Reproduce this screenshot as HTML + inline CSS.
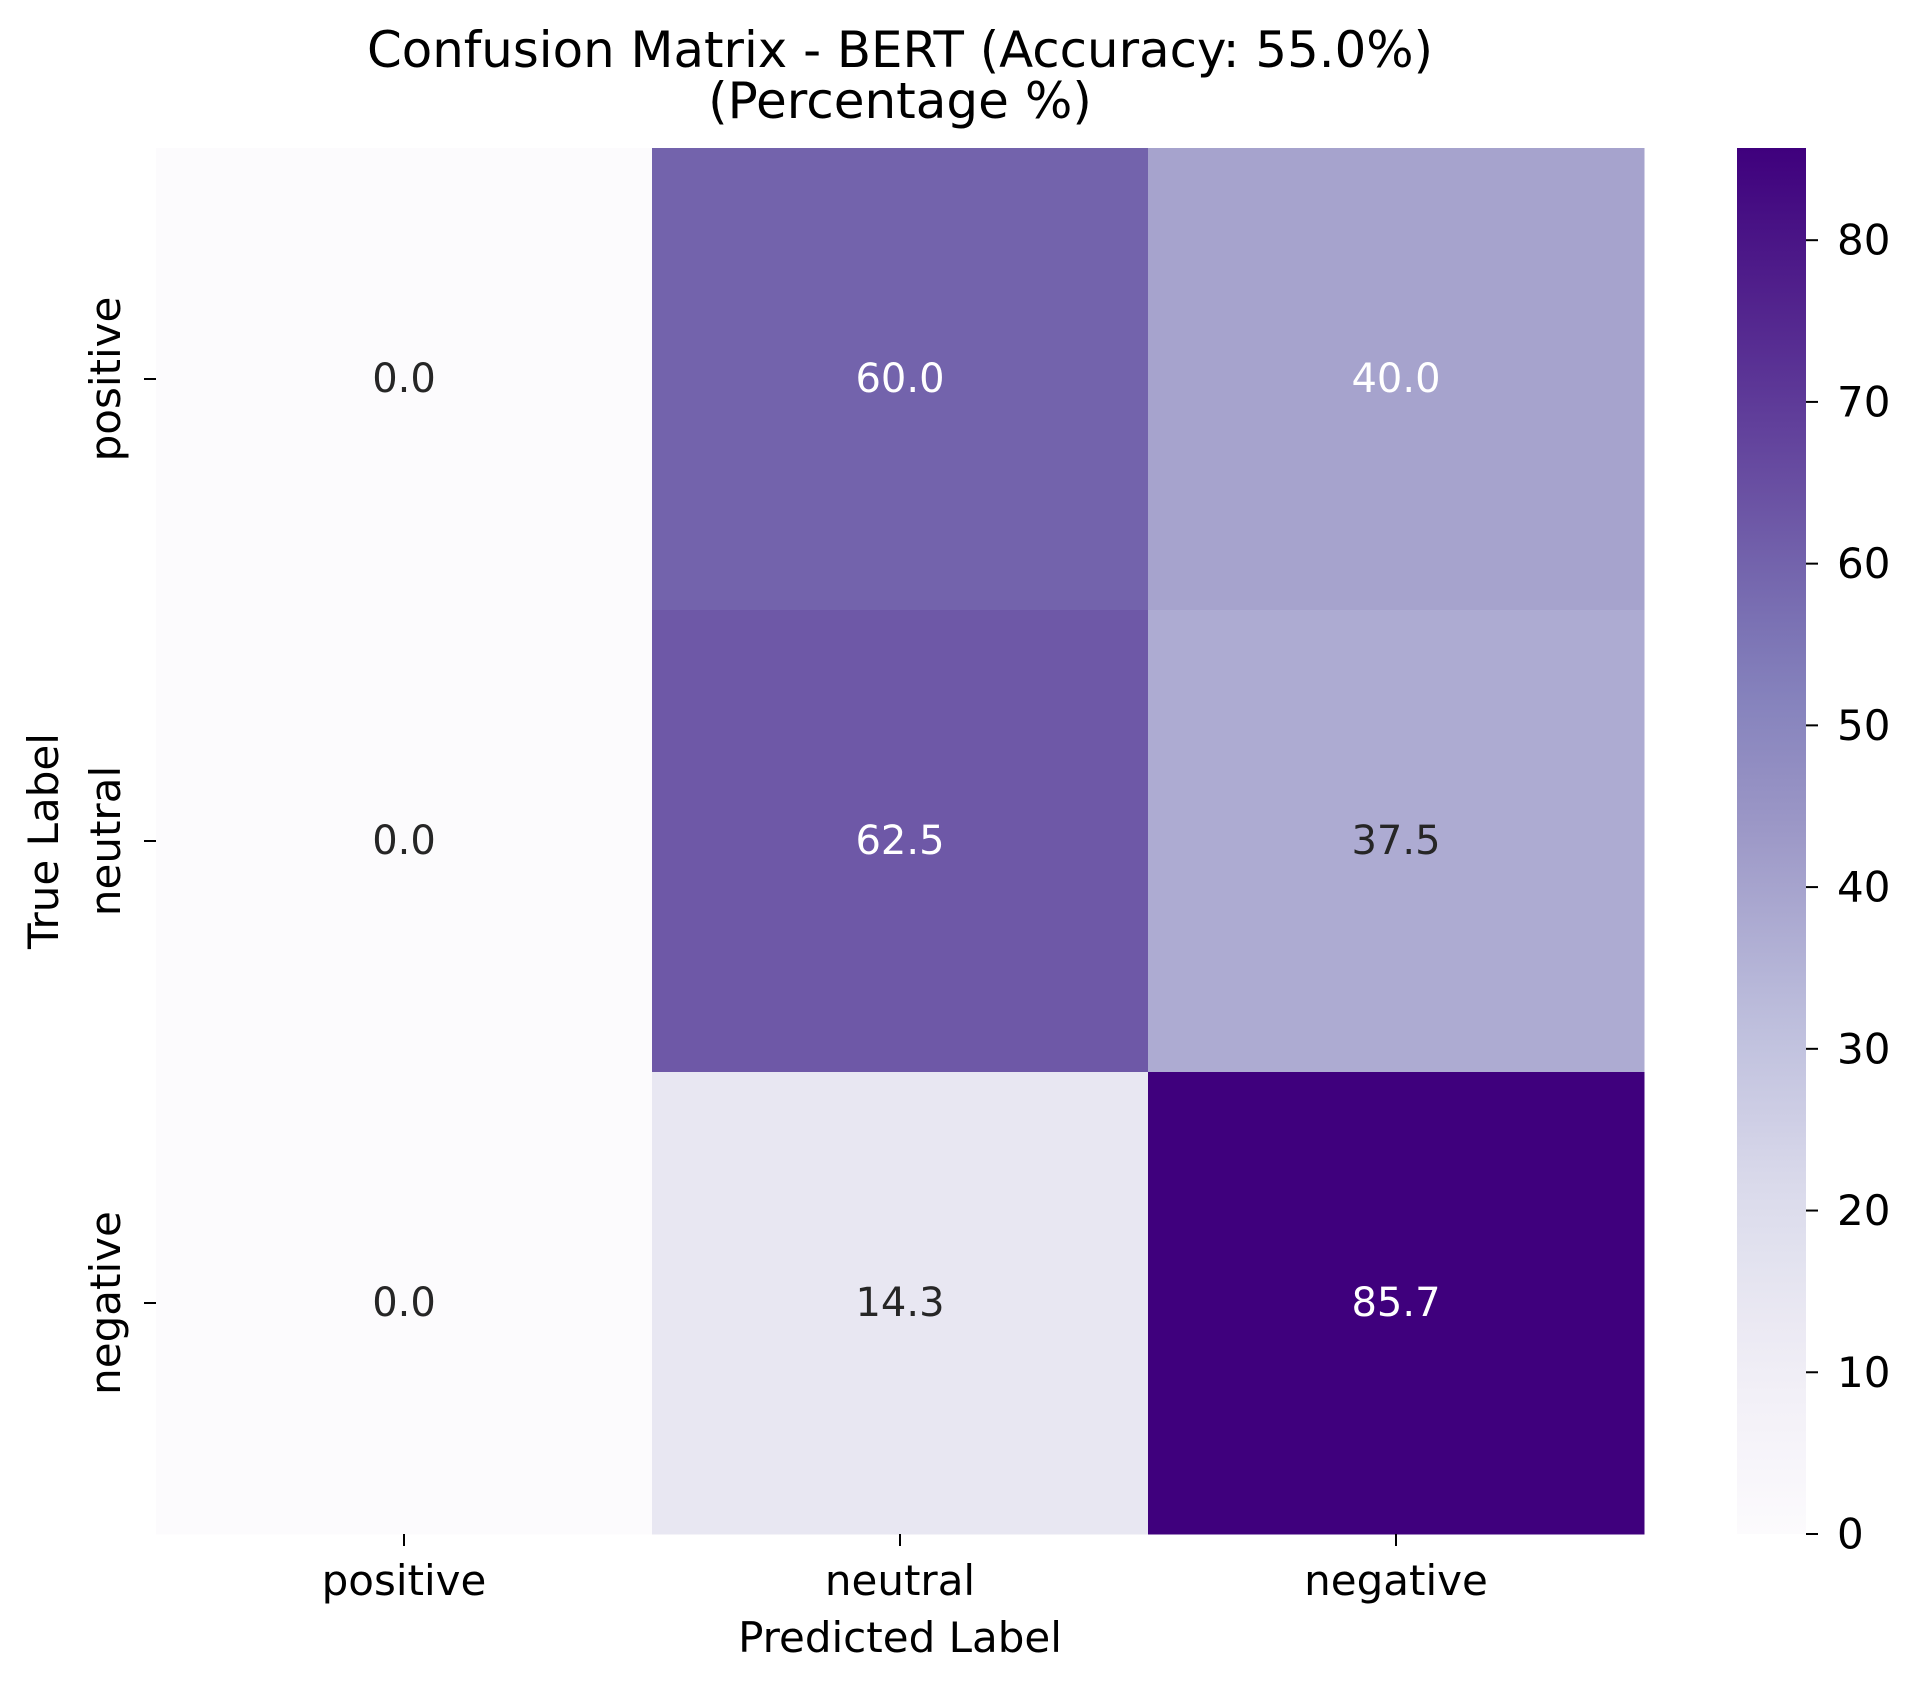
<!DOCTYPE html>
<html><head><meta charset="utf-8"><style>
html,body{margin:0;padding:0;background:#fff}
svg{display:block;font-family:"DejaVu Sans","Liberation Sans",sans-serif}
</style></head><body>
<svg id="chart" width="1918" height="1690" viewBox="0 0 1918 1690" xmlns="http://www.w3.org/2000/svg">
<defs><linearGradient id="cbgrad" x1="0" y1="1" x2="0" y2="0"></linearGradient></defs>
<text x="900" y="67" font-size="50" text-anchor="middle" fill="#000" textLength="1066" lengthAdjust="spacingAndGlyphs">Confusion Matrix - BERT (Accuracy: 55.0%)</text>
<text x="900" y="118" font-size="50" text-anchor="middle" fill="#000">(Percentage %)</text>
<g id="cells"></g>
<g id="xaxis"></g>
<g id="yaxis"></g>
<text x="900" y="1652" font-size="42" text-anchor="middle" fill="#000">Predicted Label</text>
<text x="0" y="0" font-size="42" text-anchor="middle" fill="#000" transform="translate(58,841) rotate(-90)">True Label</text>
<g id="colorbar"></g>
</svg>
<script>
const categories = ["positive", "neutral", "negative"];
const row0 = [0.0, 60.0, 40.0];
const row1 = [0.0, 62.5, 37.5];
const row2 = [0.0, 14.3, 85.7];
const values = [row0, row1, row2];
const cbTicks = [0, 10, 20, 30, 40, 50, 60, 70, 80];

const NS = "http://www.w3.org/2000/svg";
const L = 156, R = 1644, T = 148, B = 1534;
const vmin = 0, vmax = Math.max(...values.flat());
const cw = (R - L) / categories.length, ch = (B - T) / categories.length;
const xPos = i => L + cw * (i + 0.5);
const yPos = i => T + ch * (i + 0.5);
const cbL = 1737, cbR = 1806;
const cbY = v => B - (v - vmin) / (vmax - vmin) * (B - T);

const stops = ["#fcfbfd","#efedf5","#dadaeb","#bcbddc","#9e9ac8","#807dba","#6a51a3","#54278f","#3f007d"];
function hex(h){return [1,3,5].map(i=>parseInt(h.substr(i,2),16));}
function cmap(v){
  let t = (v - vmin) / (vmax - vmin); t = Math.max(0, Math.min(1, t));
  const p = t * (stops.length - 1), i = Math.min(Math.floor(p), stops.length - 2), f = p - i;
  const a = hex(stops[i]), b = hex(stops[i+1]);
  return a.map((c,k)=>Math.round(c + (b[k]-c)*f));
}
function lum(rgb){
  const c = rgb.map(x=>{x/=255;return x<=0.03928?x/12.92:Math.pow((x+0.055)/1.055,2.4);});
  return 0.2126*c[0]+0.7152*c[1]+0.0722*c[2];
}
function mk(tag, attrs, parent){const e=document.createElementNS(NS,tag);for(const k in attrs)e.setAttribute(k,attrs[k]);parent.appendChild(e);return e;}

const cells = document.getElementById("cells");
values.forEach((row, r) => row.forEach((v, c) => {
  const rgb = cmap(v);
  const rect = mk("rect", {x: L + c*cw, y: T + r*ch, width: cw + 0.5, height: ch + 0.5, fill: `rgb(${rgb.join(",")})`}, cells);
  
  
  const t = mk("text", {x: xPos(c), y: yPos(r), "font-size": 40, "text-anchor": "middle", "dominant-baseline": "central", fill: lum(rgb) > 0.408 ? "#262626" : "#ffffff"}, cells);
  t.textContent = v.toFixed(1);
  
  
}));

const xa = document.getElementById("xaxis"), ya = document.getElementById("yaxis");
categories.forEach((c, i) => {
  const tk = mk("line", {x1: xPos(i), x2: xPos(i), y1: B, y2: B + 12, stroke: "#000", "stroke-width": 2}, xa);
  
  
  const tl = mk("text", {x: xPos(i), y: 1595, "font-size": 42, "text-anchor": "middle", fill: "#000"}, xa);
  tl.textContent = c;
  
  
  const ytk = mk("line", {x1: L - 12, x2: L, y1: yPos(i), y2: yPos(i), stroke: "#000", "stroke-width": 2}, ya);
  
  
  const yl = mk("text", {x: 0, y: 0, "font-size": 42, "text-anchor": "middle", fill: "#000", transform: `translate(120,${yPos(i)}) rotate(-90)`}, ya);
  yl.textContent = c;
  
  
});

const grad = document.getElementById("cbgrad");
for (let k = 0; k <= 20; k++) {
  const v = vmin + (vmax - vmin) * k / 20;
  mk("stop", {offset: (k/20), "stop-color": `rgb(${cmap(v).join(",")})`}, grad);
}
const cb = document.getElementById("colorbar");
const cbr = mk("rect", {x: cbL, y: T, width: cbR - cbL, height: B - T, fill: "url(#cbgrad)"}, cb);


cbTicks.forEach(v => {
  const tk = mk("line", {x1: cbR, x2: cbR + 12, y1: cbY(v), y2: cbY(v), stroke: "#000", "stroke-width": 2}, cb);
  
  
  const tl = mk("text", {x: 1837, y: cbY(v), "font-size": 42, "dominant-baseline": "central", fill: "#000"}, cb);
  tl.textContent = String(v);
  
  
});
</script>
</body></html>
